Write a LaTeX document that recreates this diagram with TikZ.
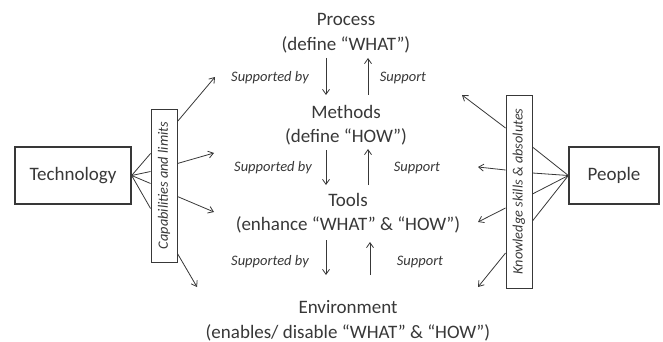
\documentclass[tikz,border=0pt]{standalone}
\usepackage{fontspec}
\setmainfont{Carlito}
\usetikzlibrary{arrows.meta, calc}
\definecolor{ink}{gray}{0.22}
\tikzset{
>={Straight Barb[length=5pt,width=7pt]}, % thin open arrow heads
every node/.style={text=ink},
level/.style={align=center, font=\fontsize{19}{24.5}\selectfont, inner sep=1pt}, % the four stacked levels
tag/.style={font=\fontsize{14.5}{17}\selectfont\itshape}, % "Supported by" / "Support"
actor/.style={draw=ink, line width=1.3pt, font=\fontsize{19}{22}\selectfont}, % Technology and People
band/.style={draw=ink, line width=0.9pt, rotate=90, inner sep=1pt, font=\fontsize{14.3}{16}\selectfont\itshape}, % the rotated bars
flow/.style={->, draw=ink, line width=0.8pt},
link/.style={draw=ink, line width=0.8pt},
}
\begin{document}
\begin{tikzpicture}[x=1pt, y=-1pt]
    \useasboundingbox (0,0) rectangle (663,342);

    % the four levels
    \node[level] (process) at (346,33) {Process\\(define “WHAT”)};
    \node[level] (methods) at (346,125) {Methods\\(define “HOW”)};
    \node[level] (tools) at (348,213) {Tools\\(enhance “WHAT” \& “HOW”)};
    \node[level] (env) at (348,321) {Environment\\(enables/ disable “WHAT” \& “HOW”)};

    % up and down between the levels
    \draw[flow] ($(process.center)+(-20,25)$) -- ($(process.center)+(-20,62)$);
    \draw[flow] ($(process.center)+(22,62)$) -- ($(process.center)+(22,25)$);
    \draw[flow] ($(methods.center)+(-20,25)$) -- ($(methods.center)+(-20,60)$);
    \draw[flow] ($(methods.center)+(22,60)$) -- ($(methods.center)+(22,24)$);
    \draw[flow] ($(tools.center)+(-22,27)$) -- ($(tools.center)+(-22,62)$);
    \draw[flow] ($(tools.center)+(22,62)$) -- ($(tools.center)+(22,29)$);

    \node[tag] (sb1) at (270,78) {Supported by};
    \node[tag] (s1) at (403,78) {Support};
    \node[tag] (sb2) at (273,168) {Supported by};
    \node[tag] (s2) at (417,168) {Support};
    \node[tag] (sb3) at (270,262) {Supported by};
    \node[tag] (s3) at (420,262) {Support};

    % technology side
    \node[actor, minimum width=116pt, minimum height=57pt] (tech) at (73,175.5) {Technology};
    \node[band, minimum width=153pt, minimum height=26pt] (cap) at (164,185.5) {Capabilities and limits};
    \foreach \dy in {-32,-14,-2,23}
        \draw[link] (tech.east) -- ($(cap.north)+(0,\dy)$);

    \coordinate (t1) at (215,77);
    \coordinate (t2) at (214,153);
    \coordinate (t3) at (214,212);
    \coordinate (t4) at (197,287);
    \draw[flow] ($(cap.south)+(0,-64)$) -- (t1);
    \draw[flow] ($(cap.south)+(0,-22)$) -- (t2);
    \draw[flow] ($(cap.south)+(0,11)$) -- (t3);
    \draw[flow] ($(cap.south)+(0,68)$) -- (t4);

    % people side
    \node[actor, minimum width=90pt, minimum height=57pt] (people) at (614,175.5) {People};
    \node[band, minimum width=193pt, minimum height=26pt] (know) at (519,191.5) {Knowledge skills \& absolutes};
    \foreach \dy in {-44.5,-18.5,2.5,29.5}
        \draw[link] (people.west) -- ($(know.south)+(0,\dy)$);

    \coordinate (p1) at (462,95);
    \coordinate (p2) at (478,167);
    \coordinate (p3) at (478,222);
    \coordinate (p4) at (478,287);
    \draw[flow] ($(know.north)+(0,-63.5)$) -- (p1);
    \draw[flow] ($(know.north)+(0,-21.5)$) -- (p2);
    \draw[flow] ($(know.north)+(0,16.5)$) -- (p3);
    \draw[flow] ($(know.north)+(0,61.5)$) -- (p4);
\end{tikzpicture}
\end{document}
